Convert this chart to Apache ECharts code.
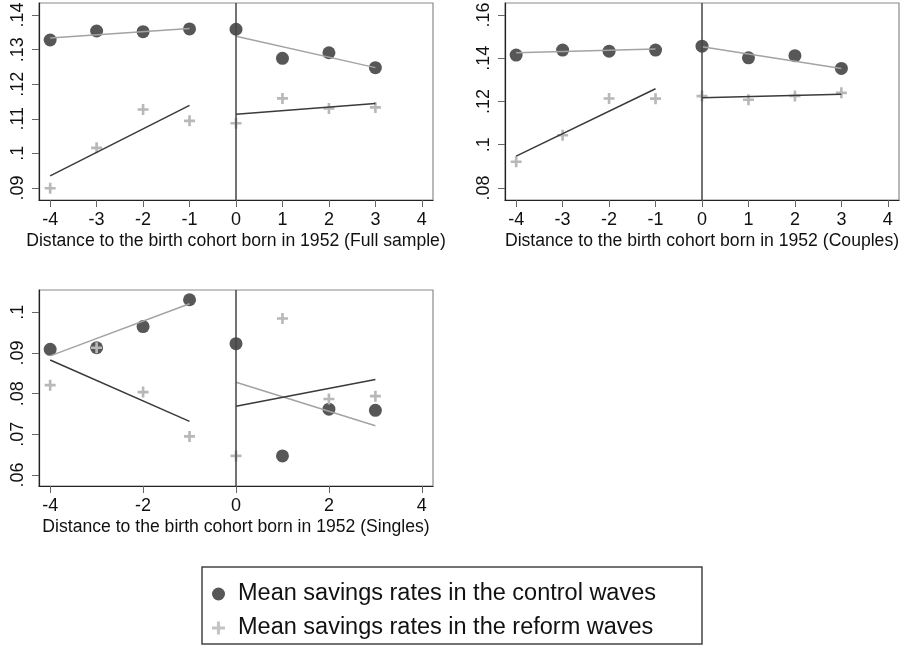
<!DOCTYPE html>
<html style="height: 100%;">
<head>
<meta charset="utf-8">
<title>Savings rates by birth cohort</title>
<script src="https://cdn.jsdelivr.net/npm/echarts@6/dist/echarts.min.js"></script>
</head>
<body style="height: 100%; margin: 0; background: #fff">
<div id="container" style="width: 901px; height: 646px"></div>
<script type="text/javascript">
// distance to the 1952 cohort
var cohorts = [-4, -3, -2, -1, 0, 1, 2, 3];
// ends of the fitted segments (before / after 1952)
var fitEnds = [-4, -1, 0, 3];

// full sample
var fullControl = [.1328, .1354, .1352, .1360, .1359, .1275, .1291, .1248];
var fullReform  = [.0899, .1016, .1127, .1094, .1087, .1159, .1130, .1133];
var fullControlFit = [.1334, .1361, .1339, .1248];
var fullReformFit  = [.0935, .1139, .1113, .1144];

// couples
var coupControl = [.1415, .1438, .1433, .1438, .1456, .1402, .1412, .1353];
var coupReform  = [.0921, .1044, .1214, .1213, .1225, .1208, .1226, .1240];
var coupControlFit = [.1426, .1443, .1453, .1353];
var coupReformFit  = [.0947, .1259, .1217, .1234];

// singles
var singControl = [.0909, .0913, .0965, .1031, .0923, .0647, .0762, .0759];
var singReform  = [.0821, .0913, .0804, .0695, .0647, .0985, .0787, .0794];
var singControlFit = [.0893, .1021, .0828, .0721];
var singReformFit  = [.0883, .0732, .0769, .0835];

var xTicksA = [-4, -3, -2, -1, 0, 1, 2, 3, 4];
var xTicksB = [-4, -2, 0, 2, 4];
var yTicksFull = [.09, .10, .11, .12, .13, .14];
var yTicksCoup = [.08, .10, .12, .14, .16];
var yTicksSing = [.06, .07, .08, .09, .10];

var nameControl = 'Mean savings rates in the control waves';
var nameReform = 'Mean savings rates in the reform waves';

var plusPath = 'path://M-1.2,-5H1.2V-1.2H5V1.2H1.2V5H-1.2V1.2H-5V-1.2H-1.2Z';
var font = 'Liberation Sans, Arial, Helvetica, sans-serif';

var dom = document.getElementById('container');
var myChart = echarts.init(dom);

function fmt(v) {
    return (Math.round(v * 100) / 100).toString().replace(/^0\./, '.');
}

function xAxisFor(idx, ticks, title) {
    return {
        gridIndex: idx, type: 'value', min: -4.24, max: 4.24,
        name: title, nameLocation: 'middle', nameGap: 32,
        nameTextStyle: { fontSize: 17.6, color: '#111', fontFamily: font },
        axisLine: { onZero: false, lineStyle: { color: '#222', width: 1.2 } },
        axisTick: { customValues: ticks, length: 7, lineStyle: { color: '#666' } },
        axisLabel: { customValues: ticks, fontSize: 18, color: '#111', fontFamily: font, margin: 11 },
        splitLine: { show: false }
    };
}

function yAxisFor(idx, lo, hi, ticks) {
    return {
        gridIndex: idx, type: 'value', min: lo, max: hi,
        axisLine: { show: true, onZero: false, lineStyle: { color: '#222', width: 1.2 } },
        axisTick: { show: true, customValues: ticks, length: 7, lineStyle: { color: '#666' } },
        axisLabel: {
            customValues: ticks, rotate: 90, fontSize: 18, color: '#111', fontFamily: font,
            margin: 12, formatter: fmt
        },
        splitLine: { show: false }
    };
}

function panelSeries(idx, control, reform, controlFit, reformFit) {
    var out = [];
    out.push({
        name: nameControl, type: 'scatter', xAxisIndex: idx, yAxisIndex: idx,
        symbol: 'circle', symbolSize: 13,
        itemStyle: { color: '#575757', opacity: 1 },
        data: cohorts.map(function (c, i) { return [c, control[i]]; }),
        markLine: {
            silent: true, symbol: 'none', label: { show: false },
            lineStyle: { color: '#444', width: 1.5, type: 'solid' },
            data: [{ xAxis: 0 }]
        },
        z: 2
    });
    out.push({
        name: nameReform, type: 'scatter', xAxisIndex: idx, yAxisIndex: idx,
        symbol: plusPath, symbolSize: 11,
        itemStyle: { color: '#b8b8b8', opacity: 1 },
        data: cohorts.map(function (c, i) { return [c, reform[i]]; }),
        z: 3
    });
    [[0, 1], [2, 3]].forEach(function (seg) {
        out.push({
            type: 'line', xAxisIndex: idx, yAxisIndex: idx, symbol: 'none', silent: true,
            lineStyle: { color: '#a3a3a3', width: 1.5 },
            data: seg.map(function (k) { return [fitEnds[k], controlFit[k]]; }),
            z: 4
        });
        out.push({
            type: 'line', xAxisIndex: idx, yAxisIndex: idx, symbol: 'none', silent: true,
            lineStyle: { color: '#3a3a3a', width: 1.5 },
            data: seg.map(function (k) { return [fitEnds[k], reformFit[k]]; }),
            z: 4
        });
    });
    return out;
}

var gridStyle = {
    show: true, borderColor: '#8a8a8a', borderWidth: 1.2, backgroundColor: '#fff',
    containLabel: false, outerBoundsMode: 'none'
};

option = {
    backgroundColor: '#fff',
    animation: false,
    textStyle: { fontFamily: font },
    grid: [
        Object.assign({ left: 39, top: 3, width: 394, height: 197 }, gridStyle),
        Object.assign({ left: 505, top: 3, width: 394, height: 197 }, gridStyle),
        Object.assign({ left: 39, top: 290, width: 394, height: 196 }, gridStyle)
    ],
    xAxis: [
        xAxisFor(0, xTicksA, 'Distance to the birth cohort born in 1952 (Full sample)'),
        xAxisFor(1, xTicksA, 'Distance to the birth cohort born in 1952 (Couples)'),
        xAxisFor(2, xTicksB, 'Distance to the birth cohort born in 1952 (Singles)')
    ],
    yAxis: [
        yAxisFor(0, .0865, .1435, yTicksFull),
        yAxisFor(1, .0744, .1656, yTicksCoup),
        yAxisFor(2, .0573, .1055, yTicksSing)
    ],
    legend: {
        orient: 'vertical', left: 207, top: 577, itemGap: 10,
        itemWidth: 13, itemHeight: 13, selectedMode: false,
        textStyle: { fontSize: 23.5, color: '#111', fontFamily: font, padding: [0, 0, 0, 8] },
        data: [
            { name: nameControl },
            { name: nameReform, itemStyle: { color: '#c4c4c4' } }
        ]
    },
    graphic: [{
        type: 'rect', silent: true,
        shape: { x: 202, y: 567, width: 500, height: 77 },
        style: { fill: 'none', stroke: '#444', lineWidth: 1.5 }
    }],
    series: [].concat(
        panelSeries(0, fullControl, fullReform, fullControlFit, fullReformFit),
        panelSeries(1, coupControl, coupReform, coupControlFit, coupReformFit),
        panelSeries(2, singControl, singReform, singControlFit, singReformFit)
    )
};

myChart.setOption(option);
</script>
</body>
</html>
